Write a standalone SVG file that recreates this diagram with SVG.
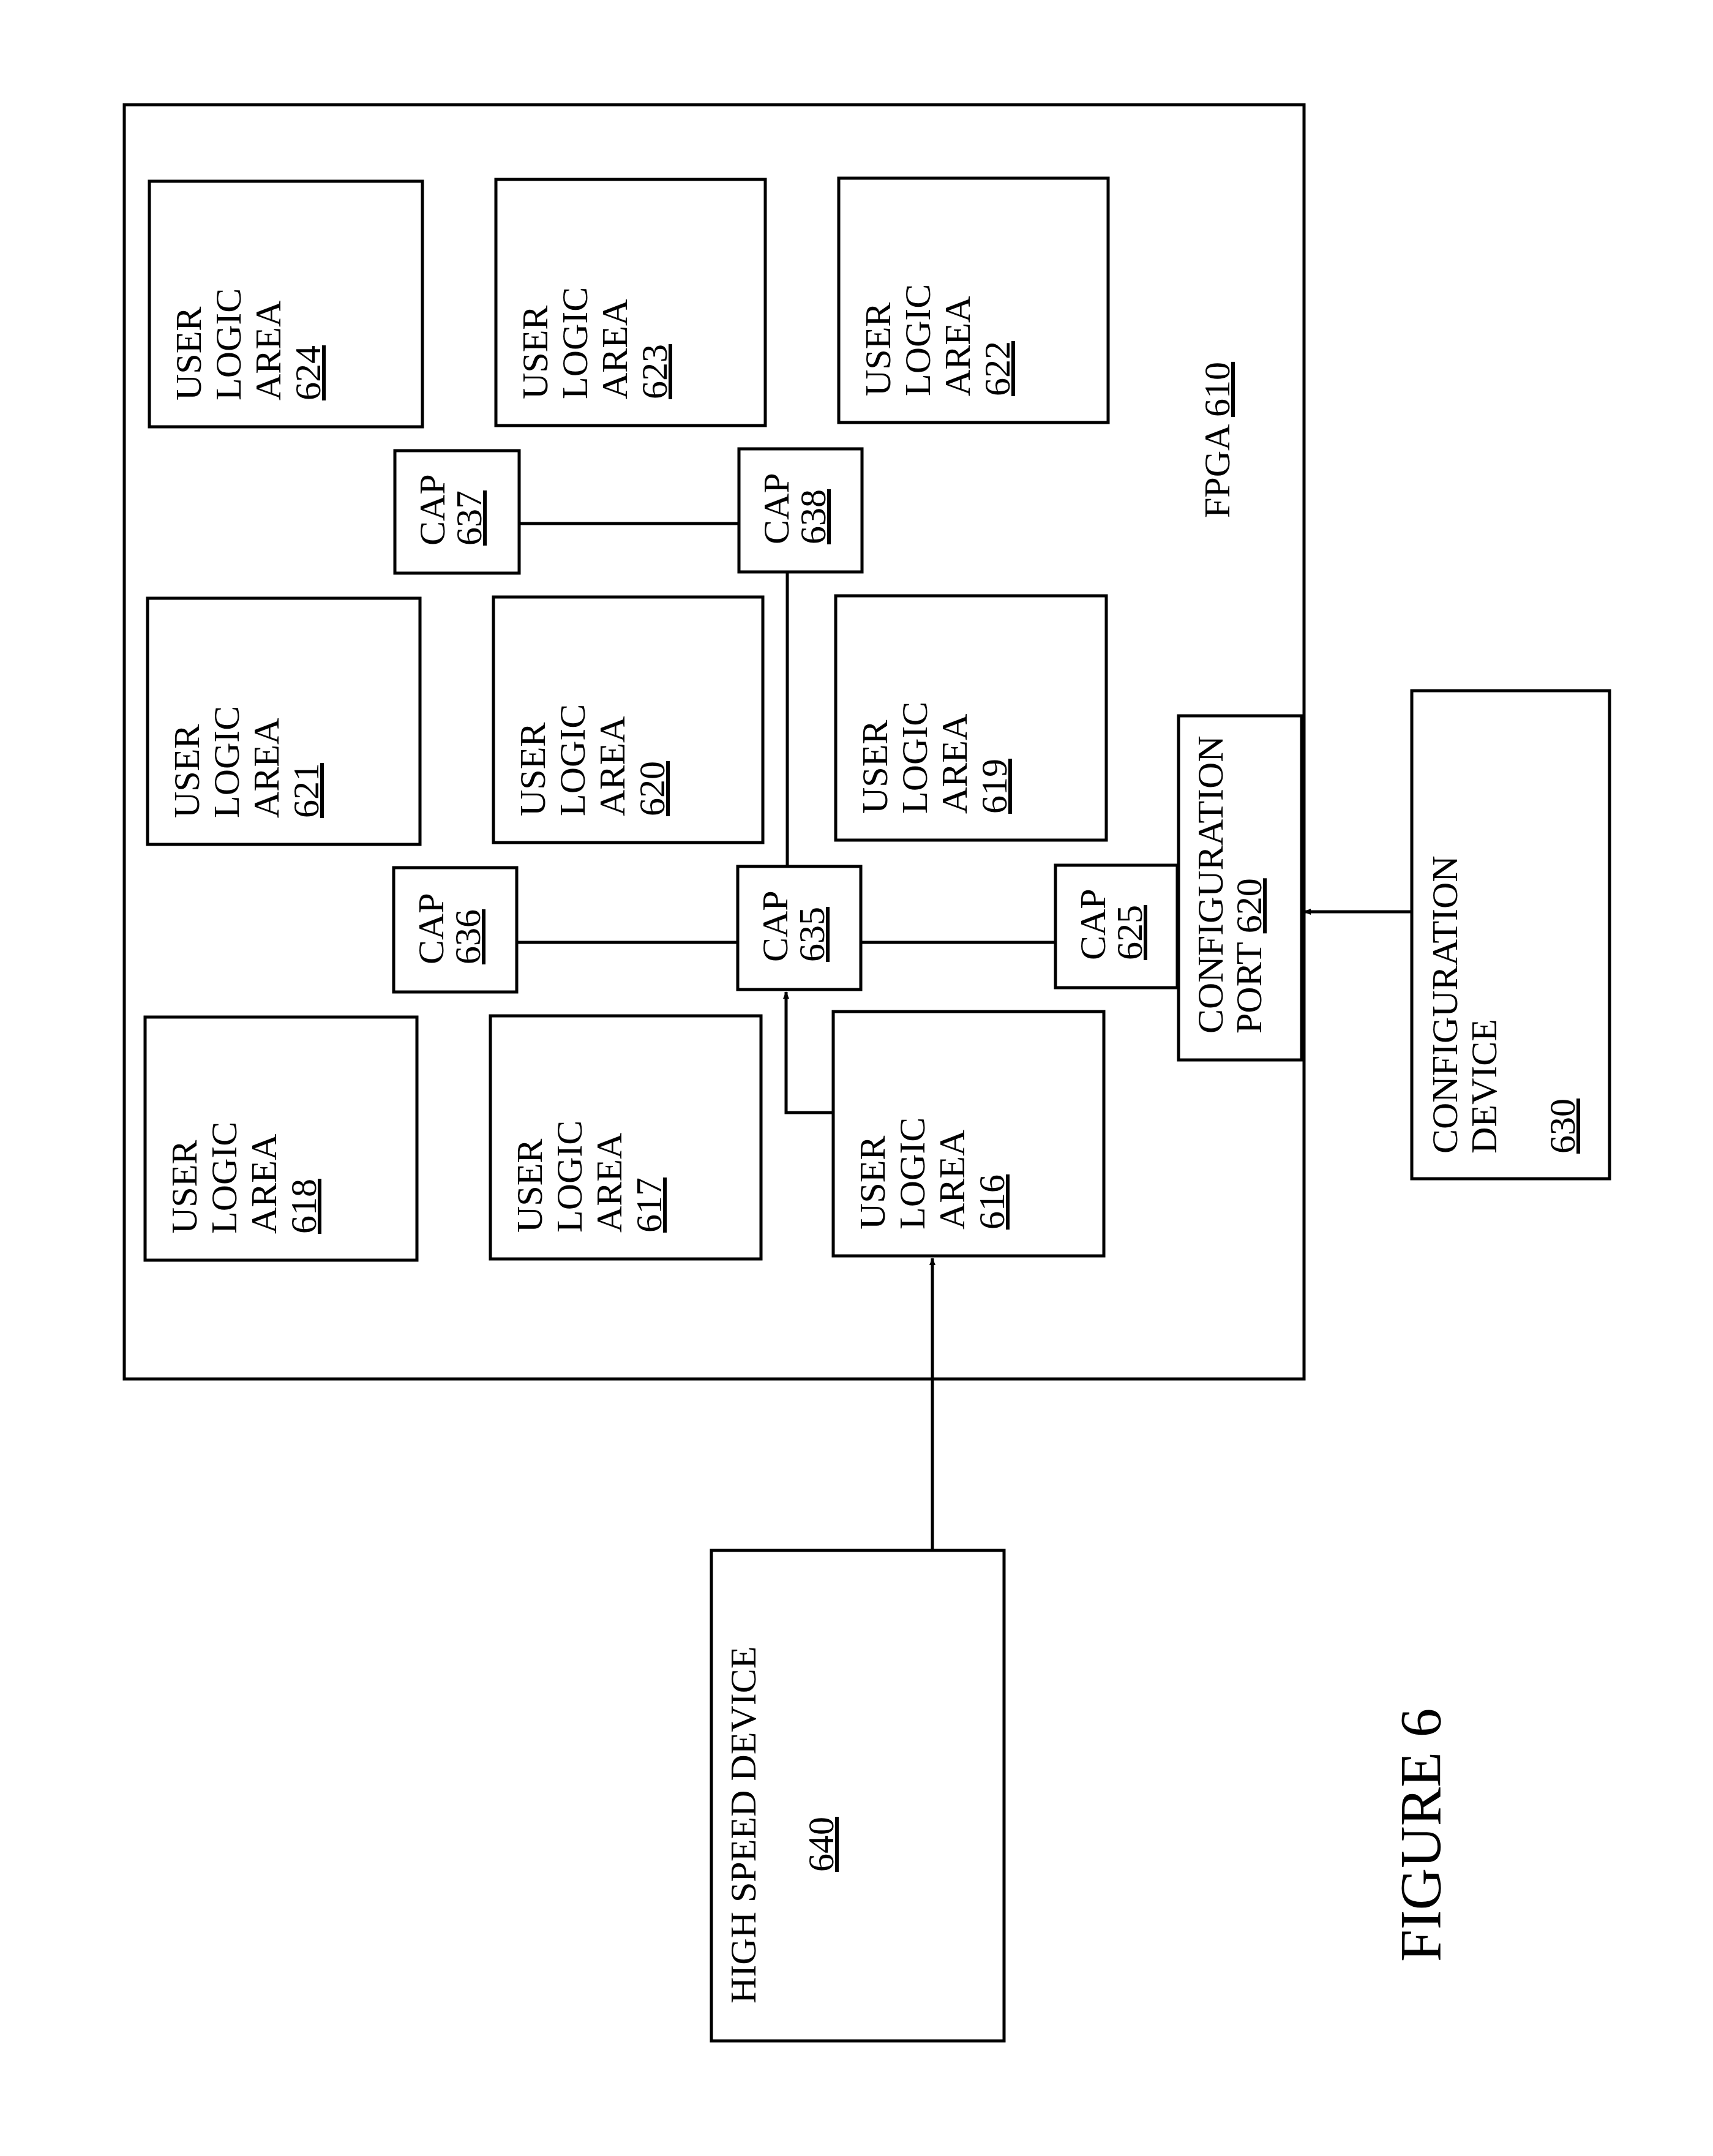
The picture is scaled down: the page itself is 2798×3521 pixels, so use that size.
<svg xmlns="http://www.w3.org/2000/svg" width="2798" height="3521" viewBox="0 0 2798 3521">
<style>
rect{fill:none;stroke:#000;stroke-width:5}
text{font-family:"Liberation Serif",serif;font-size:60px;fill:#000}
.u{text-decoration:underline}
line,polyline{stroke:#000;stroke-width:5;fill:none}
</style>
<defs><marker id="a" markerWidth="12" markerHeight="10" refX="11" refY="5" orient="auto" markerUnits="userSpaceOnUse" viewBox="0 0 12 10"><path d="M0,0 L12,5 L0,10 Z" fill="#000"/></marker></defs>
<rect width="2798" height="3521" fill="#fff" stroke="none" style="fill:#fff;stroke:none"/>
<g id="fpga"><rect x="203" y="171" width="1927" height="2081"/>
<text transform="translate(2008,846) rotate(-90)">FPGA <tspan class="u">610</tspan></text></g>
<g id="ula624"><rect x="244" y="296" width="446" height="401"/><text transform="translate(328,654) rotate(-90)"><tspan x="0">USER</tspan><tspan x="0" dy="65">LOGIC</tspan><tspan x="0" dy="65">AREA</tspan><tspan x="0" dy="65" class="u">624</tspan></text></g>
<g id="ula623"><rect x="810" y="293" width="440" height="402"/><text transform="translate(894,652) rotate(-90)"><tspan x="0">USER</tspan><tspan x="0" dy="65">LOGIC</tspan><tspan x="0" dy="65">AREA</tspan><tspan x="0" dy="65" class="u">623</tspan></text></g>
<g id="ula622"><rect x="1370" y="291" width="440" height="399"/><text transform="translate(1454,647) rotate(-90)"><tspan x="0">USER</tspan><tspan x="0" dy="65">LOGIC</tspan><tspan x="0" dy="65">AREA</tspan><tspan x="0" dy="65" class="u">622</tspan></text></g>
<g id="ula621"><rect x="241" y="977" width="445" height="402"/><text transform="translate(325,1336) rotate(-90)"><tspan x="0">USER</tspan><tspan x="0" dy="65">LOGIC</tspan><tspan x="0" dy="65">AREA</tspan><tspan x="0" dy="65" class="u">621</tspan></text></g>
<g id="ula620"><rect x="806" y="975" width="440" height="401"/><text transform="translate(890,1333) rotate(-90)"><tspan x="0">USER</tspan><tspan x="0" dy="65">LOGIC</tspan><tspan x="0" dy="65">AREA</tspan><tspan x="0" dy="65" class="u">620</tspan></text></g>
<g id="ula619"><rect x="1365" y="973" width="442" height="399"/><text transform="translate(1449,1329) rotate(-90)"><tspan x="0">USER</tspan><tspan x="0" dy="65">LOGIC</tspan><tspan x="0" dy="65">AREA</tspan><tspan x="0" dy="65" class="u">619</tspan></text></g>
<g id="ula618"><rect x="237" y="1661" width="444" height="397"/><text transform="translate(321,2015) rotate(-90)"><tspan x="0">USER</tspan><tspan x="0" dy="65">LOGIC</tspan><tspan x="0" dy="65">AREA</tspan><tspan x="0" dy="65" class="u">618</tspan></text></g>
<g id="ula617"><rect x="801" y="1659" width="442" height="397"/><text transform="translate(885,2013) rotate(-90)"><tspan x="0">USER</tspan><tspan x="0" dy="65">LOGIC</tspan><tspan x="0" dy="65">AREA</tspan><tspan x="0" dy="65" class="u">617</tspan></text></g>
<g id="ula616"><rect x="1361" y="1652" width="442" height="399"/><text transform="translate(1445,2008) rotate(-90)"><tspan x="0">USER</tspan><tspan x="0" dy="65">LOGIC</tspan><tspan x="0" dy="65">AREA</tspan><tspan x="0" dy="65" class="u">616</tspan></text></g>
<g id="cap637"><rect x="645" y="736" width="203" height="200"/><text transform="translate(726,891) rotate(-90)"><tspan x="0">CAP</tspan><tspan x="0" dy="60" class="u">637</tspan></text></g>
<g id="cap638"><rect x="1207" y="733" width="201" height="201"/><text transform="translate(1288,889) rotate(-90)"><tspan x="0">CAP</tspan><tspan x="0" dy="60" class="u">638</tspan></text></g>
<g id="cap636"><rect x="643" y="1417" width="201" height="203"/><text transform="translate(724,1575) rotate(-90)"><tspan x="0">CAP</tspan><tspan x="0" dy="60" class="u">636</tspan></text></g>
<g id="cap635"><rect x="1205" y="1415" width="201" height="201"/><text transform="translate(1286,1571) rotate(-90)"><tspan x="0">CAP</tspan><tspan x="0" dy="60" class="u">635</tspan></text></g>
<g id="cap625"><rect x="1724" y="1413" width="199" height="200"/><text transform="translate(1805,1568) rotate(-90)"><tspan x="0">CAP</tspan><tspan x="0" dy="60" class="u">625</tspan></text></g>
<g id="cfgport"><rect x="1925" y="1169" width="201" height="562"/><text transform="translate(1997,1688) rotate(-90)"><tspan x="0">CONFIGURATION</tspan><tspan x="0" dy="63">PORT  <tspan class="u">620</tspan></tspan></text></g>
<g id="cfgdev"><rect x="2306" y="1128" width="323" height="797"/><text transform="translate(2380,1884) rotate(-90)"><tspan x="0">CONFIGURATION</tspan><tspan x="0" dy="64">DEVICE</tspan><tspan x="0" dy="128" class="u">630</tspan></text></g>
<g id="hsd"><rect x="1162" y="2532" width="478" height="801"/><text transform="translate(1234,3272) rotate(-90)">HIGH SPEED DEVICE</text><text class="u" text-anchor="middle" transform="translate(1361,3012) rotate(-90)">640</text></g>
<g id="connectors">
<line x1="848" y1="855" x2="1207" y2="855"/>
<line x1="1286" y1="934" x2="1286" y2="1415"/>
<line x1="844" y1="1539" x2="1205" y2="1539"/>
<line x1="1406" y1="1539" x2="1724" y2="1539"/>
<polyline points="1361,1817 1284,1817 1284,1620" marker-end="url(#a)"/>
<line x1="2306" y1="1489" x2="2130" y2="1489" marker-end="url(#a)"/>
<line x1="1523" y1="2532" x2="1523" y2="2055" marker-end="url(#a)"/>
</g>
<text style="font-size:95px" transform="translate(2353,3204) rotate(-90)">FIGURE 6</text>
</svg>
